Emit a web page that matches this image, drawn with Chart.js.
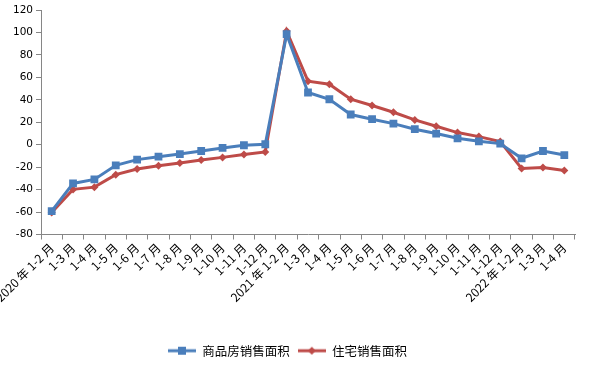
<!DOCTYPE html>
<html>
<head>
<meta charset="utf-8">
<script src="https://cdn.jsdelivr.net/npm/chart.js@4"></script>
<style>
  html, body { margin: 0; padding: 0; background: #fff; }
  #wrap { width: 589px; height: 372px; }
</style>
</head>
<body>
<div id="wrap"><canvas id="chart1"></canvas></div>
<script>
// categories (cumulative months)
const months = ['2020 年 1-2 月', '1-3 月', '1-4 月', '1-5 月', '1-6 月', '1-7 月', '1-8 月', '1-9 月', '1-10 月', '1-11 月', '1-12 月',
                '2021 年 1-2 月', '1-3 月', '1-4 月', '1-5 月', '1-6 月', '1-7 月', '1-8 月', '1-9 月', '1-10 月', '1-11 月', '1-12 月',
                '2022 年 1-2 月', '1-3 月', '1-4 月'];

// 商品房销售面积 growth %
const commercialArea = [-59.2, -34.5, -30.9, -18.4, -13.3, -10.7, -8.3, -5.6, -2.9, -0.5, 0.4,
                        98.5, 46.5, 40.5, 26.9, 22.7, 18.8, 13.8, 9.9, 5.7, 3.0, 1.0,
                        -12.1, -5.6, -9.2];

// 住宅销售面积 growth %
const residentialArea = [-60.4, -39.8, -37.8, -26.7, -21.7, -18.7, -16.3, -13.6, -11.3, -8.8, -6.5,
                         101.2, 56.6, 53.9, 40.5, 34.9, 28.9, 22.1, 16.4, 10.8, 7.2, 2.8,
                         -21.1, -20.4, -22.9];

const blue = '#4A7EBB';
const red = '#BE4B48';

// legend symbol: short line with the marker in the middle
function legendIcon(color, shape) {
    const c = document.createElement('canvas');
    c.width = 28; c.height = 12;
    const g = c.getContext('2d');
    g.strokeStyle = color;
    g.lineWidth = 3;
    g.beginPath(); g.moveTo(0, 6); g.lineTo(28, 6); g.stroke();
    g.fillStyle = color;
    g.beginPath();
    if (shape === 'square') {
        g.rect(10, 2, 8, 8);
    } else {
        g.moveTo(14, 2); g.lineTo(18, 6); g.lineTo(14, 10); g.lineTo(10, 6); g.closePath();
    }
    g.fill();
    return c;
}

document.addEventListener("DOMContentLoaded", function() {
    const ctx1 = document.getElementById('chart1').getContext('2d');
    const blueIcon = legendIcon(blue, 'square');
    const redIcon = legendIcon(red, 'diamond');

    new Chart(ctx1, {
        type: 'line',
        data: {
            labels: months,
            datasets: [{
                label: '商品房销售面积',
                data: commercialArea,
                borderColor: blue,
                backgroundColor: blue,
                borderWidth: 3,
                pointStyle: 'rect',
                pointRadius: 5.5,
                pointHoverRadius: 5.5,
                pointBorderWidth: 0,
                tension: 0
            }, {
                label: '住宅销售面积',
                data: residentialArea,
                borderColor: red,
                backgroundColor: red,
                borderWidth: 3,
                pointStyle: 'rectRot',
                pointRadius: 4,
                pointHoverRadius: 4,
                pointBorderWidth: 0,
                tension: 0
            }]
        },
        options: {
            responsive: true,
            maintainAspectRatio: false,
            animation: false,
            layout: {
                padding: { left: 0, right: 14, top: 10, bottom: 5 }
            },
            plugins: {
                tooltip: { enabled: false },
                legend: {
                    position: 'bottom',
                    labels: {
                        usePointStyle: true,
                        pointStyleWidth: 28,
                        padding: 8,
                        color: '#000',
                        font: { family: '"Noto Sans CJK SC", sans-serif', size: 12.5 },
                        generateLabels: function(chart) {
                            return chart.data.datasets.map(function(ds, i) {
                                return {
                                    text: ds.label,
                                    pointStyle: i === 0 ? blueIcon : redIcon,
                                    fillStyle: ds.borderColor,
                                    strokeStyle: ds.borderColor,
                                    lineWidth: 0,
                                    fontColor: '#000',
                                    datasetIndex: i
                                };
                            });
                        }
                    }
                }
            },
            scales: {
                x: {
                    offset: true,
                    afterFit: function(scale) {
                        scale.height = 102;
                        scale.paddingLeft = 0;
                        scale.paddingRight = 0;
                    },
                    grid: {
                        offset: true,
                        drawOnChartArea: false,
                        drawTicks: true,
                        tickLength: 5,
                        color: '#868686'
                    },
                    border: { color: '#868686', width: 1 },
                    ticks: {
                        autoSkip: false,
                        maxRotation: 45,
                        minRotation: 45,
                        padding: 1,
                        color: '#000',
                        font: { family: '"Noto Sans CJK SC", sans-serif', size: 12 }
                    }
                },
                y: {
                    min: -80,
                    max: 120,
                    afterFit: function(scale) {
                        scale.width = 41;
                        scale.paddingTop = 0;
                        scale.paddingBottom = 0;
                    },
                    grid: {
                        drawOnChartArea: false,
                        drawTicks: true,
                        tickLength: 5,
                        color: '#868686'
                    },
                    border: { color: '#868686', width: 1 },
                    ticks: {
                        stepSize: 20,
                        padding: 3,
                        color: '#000',
                        font: { family: '"DejaVu Sans", sans-serif', size: 10.5 }
                    }
                }
            }
        }
    });
});
</script>
</body>
</html>
